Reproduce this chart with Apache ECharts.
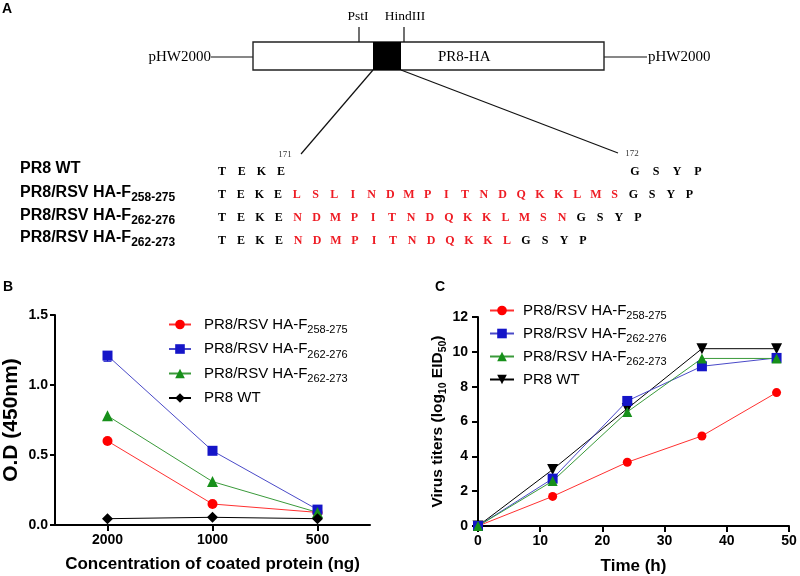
<!DOCTYPE html>
<html><head><meta charset="utf-8">
<script src="https://cdn.jsdelivr.net/npm/echarts@6/dist/echarts.min.js"></script>
<style>html,body{margin:0;padding:0;background:#fff}#c{width:800px;height:576px}</style>
</head><body><div id="c"></div>
<script>
const SANS = 'Liberation Sans';
const SERIF = 'Liberation Serif';

// ---------- Panel B data ----------
const bCategories = ['2000', '1000', '500'];
const bF258_275 = [0.60, 0.15, 0.09];
const bF262_276 = [1.21, 0.53, 0.11];
const bF262_273 = [0.78, 0.31, 0.09];
const bWT = [0.045, 0.055, 0.045];
const bF262_276Low = [1.17, null, null];

// ---------- Panel C data ----------
const cTimes = [0, 12, 24, 36, 48];
const cF258_275 = [0, 1.70, 3.66, 5.17, 7.66];
const cF262_276 = [0, 2.72, 7.18, 9.17, 9.65];
const cF262_273 = [0, 2.58, 6.55, 9.62, 9.62];
const cWT = [0, 3.24, 6.74, 10.18, 10.18];

// ---------- Names ----------
const seriesMain = ['PR8/RSV HA-F', 'PR8/RSV HA-F', 'PR8/RSV HA-F', 'PR8 WT'];
const seriesSub = ['258-275', '262-276', '262-273', ''];

// ---------- Panel A data ----------
const seqRowMain = ['PR8 WT', 'PR8/RSV HA-F', 'PR8/RSV HA-F', 'PR8/RSV HA-F'];
const seqRowSub = ['', '258-275', '262-276', '262-273'];
const seqLeft = ['TEKE', 'TEKE', 'TEKE', 'TEKE'];
const seqInsert = ['', 'LSLINDMPITNDQKKLMS', 'NDMPITNDQKKLMSN', 'NDMPITNDQKKL'];
const seqRight = ['GSYP', 'GSYP', 'GSYP', 'GSYP'];
const siteLabels = ['PstI', 'HindIII'];
const residueNums = ['171', '172'];

const RED = '#ee1c24';
const colors = ['#ff0000', '#1515c8', '#17901a', '#000000'];
const lineColors = ['#ff3030', '#4a4ac8', '#3a9a3a', '#000000'];

const rich = {
  m: { fontFamily: SANS, fontSize: 15, lineHeight: 22, color: '#000' },
  s: { fontFamily: SANS, fontSize: 11, lineHeight: 10, verticalAlign: 'bottom', color: '#000' }
};
const richBold = {
  m: { fontFamily: SANS, fontSize: 16, fontWeight: 'bold', lineHeight: 22, color: '#000' },
  s: { fontFamily: SANS, fontSize: 12, fontWeight: 'bold', lineHeight: 10, verticalAlign: 'bottom', color: '#000' }
};
function legendFmt(name) {
  const i = +name.slice(1);
  return seriesSub[i] ? '{m|' + seriesMain[i] + '}{s|' + seriesSub[i] + '}' : '{m|' + seriesMain[i] + '}';
}

// ---------- graphic for panel A ----------
const g = [];
function line(x1, y1, x2, y2, w) {
  g.push({ type: 'line', shape: { x1, y1, x2, y2 }, style: { stroke: '#111', lineWidth: w || 1.2 }, silent: true });
}
function txt(x, y, text, font, align, color, extra) {
  g.push(Object.assign({ type: 'text', x, y, silent: true,
    style: { text, font, fill: color || '#000', textAlign: align || 'left', textVerticalAlign: 'middle' } }, extra || {}));
}
txt(7, 9, 'A', 'bold 14px ' + SANS, 'center');
txt(8, 287, 'B', 'bold 14px ' + SANS, 'center');
txt(440, 287, 'C', 'bold 14px ' + SANS, 'center');

line(211, 57, 253, 57);
line(604, 57, 647, 57);
g.push({ type: 'rect', shape: { x: 253, y: 42, width: 351, height: 28 }, style: { fill: '#fff', stroke: '#222', lineWidth: 1.4 }, silent: true });
g.push({ type: 'rect', shape: { x: 373, y: 42, width: 28, height: 28 }, style: { fill: '#000' }, silent: true });
line(359, 27, 359, 42);
line(404, 27, 404, 42);
line(373, 70, 301, 154);
line(401, 70, 618, 153);
txt(358, 16, siteLabels[0], '13.5px ' + SERIF, 'center');
txt(405, 16, siteLabels[1], '13.5px ' + SERIF, 'center');
txt(211, 57, 'pHW2000', '15px ' + SERIF, 'right');
txt(648, 57, 'pHW2000', '15px ' + SERIF, 'left');
txt(438, 57, 'PR8-HA', '15px ' + SERIF, 'left');
txt(285, 155, residueNums[0], '9px ' + SERIF, 'center', '#333');
txt(632, 154, residueNums[1], '9px ' + SERIF, 'center', '#333');

const labelY = [169, 193, 216, 238];
const seqY = [172, 195, 218, 241];
const spacing = [19.7, 18.7, 18.9, 19.0];
for (let r = 0; r < 4; r++) {
  const lab = seqRowSub[r] ? '{m|' + seqRowMain[r] + '}{s|' + seqRowSub[r] + '}' : '{m|' + seqRowMain[r] + '}';
  g.push({ type: 'text', x: 20, y: labelY[r], silent: true,
    style: { text: lab, rich: richBold, textAlign: 'left', textVerticalAlign: 'middle', font: 'bold 16px ' + SANS } });
  const letters = [];
  seqLeft[r].split('').forEach(ch => letters.push([ch, '#000']));
  seqInsert[r].split('').forEach(ch => letters.push([ch, RED]));
  const nLeft = letters.length;
  seqRight[r].split('').forEach(ch => letters.push([ch, '#000']));
  letters.forEach((L, i) => {
    let x;
    if (!seqInsert[r] && i >= nLeft) x = 635 + (i - nLeft) * 21;
    else x = 222 + i * spacing[r];
    txt(x, seqY[r], L[0], 'bold 12px ' + SERIF, 'center', L[1]);
  });
}

// ---------- axes style helpers ----------
const axLine = { show: true, lineStyle: { color: '#000', width: 2 } };
const axTick = { show: true, length: 5, lineStyle: { color: '#000', width: 2 } };
const axLabel = { color: '#000', fontFamily: SANS, fontWeight: 'bold', fontSize: 14 };

function mkLine(name, data, i, symbol, size, xi, extra) {
  return Object.assign({
    type: 'line', name, data, xAxisIndex: xi, yAxisIndex: xi,
    symbol, symbolSize: size, showSymbol: true,
    itemStyle: { color: colors[i] }, lineStyle: { color: lineColors[i], width: 1 },
    emphasis: { disabled: true }, animation: false
  }, extra || {});
}
const pairs = arr => cTimes.map((t, k) => [t, arr[k]]);

const option = {
  backgroundColor: '#fff',
  animation: false,
  graphic: g,
  grid: [
    { left: 52, top: 315, width: 318, height: 210 },
    { left: 478, top: 317, width: 311, height: 209 }
  ],
  xAxis: [
    { type: 'category', gridIndex: 0, data: bCategories, boundaryGap: true,
      axisLine: axLine, axisTick: Object.assign({ alignWithLabel: true }, axTick, { length: 6 }),
      axisLabel: Object.assign({ margin: 8 }, axLabel),
      name: 'Concentration of coated protein (ng)', nameLocation: 'middle', nameGap: 31,
      nameTextStyle: { fontFamily: SANS, fontWeight: 'bold', fontSize: 17, color: '#000' } },
    { type: 'value', gridIndex: 1, min: 0, max: 50, interval: 10,
      axisLine: axLine, axisTick: Object.assign({}, axTick, { length: 6 }), splitLine: { show: false },
      axisLabel: Object.assign({ margin: 8 }, axLabel),
      name: 'Time (h)', nameLocation: 'middle', nameGap: 32,
      nameTextStyle: { fontFamily: SANS, fontWeight: 'bold', fontSize: 17, color: '#000' } }
  ],
  yAxis: [
    { type: 'value', gridIndex: 0, min: 0, max: 1.5, interval: 0.5,
      axisLine: axLine, axisTick: axTick, splitLine: { show: false },
      axisLabel: Object.assign({ margin: 7, formatter: v => v.toFixed(1) }, axLabel),
      name: 'O.D (450nm)', nameLocation: 'middle', nameGap: 33, nameRotate: 90,
      nameTextStyle: { fontFamily: SANS, fontWeight: 'bold', fontSize: 21, color: '#000' } },
    { type: 'value', gridIndex: 1, min: 0, max: 12, interval: 2,
      axisLine: axLine, axisTick: Object.assign({}, axTick, { length: 6 }), splitLine: { show: false },
      axisLabel: Object.assign({ margin: 10 }, axLabel),
      name: '{m|Virus titers (log}{s|10}{m| EID}{s|50}{m|)}', nameLocation: 'middle', nameGap: 29, nameRotate: 90,
      nameTextStyle: { fontFamily: SANS, fontWeight: 'bold', fontSize: 15.5, color: '#000',
        rich: {
          m: { fontFamily: SANS, fontWeight: 'bold', fontSize: 15.5, lineHeight: 22, color: '#000' },
          s: { fontFamily: SANS, fontWeight: 'bold', fontSize: 10.5, lineHeight: 10, verticalAlign: 'bottom', color: '#000' }
        } } }
  ],
  legend: [
    { orient: 'vertical', left: 168, top: 317, padding: 0, itemWidth: 22, itemHeight: 12, itemGap: 6,
      selectedMode: false, data: ['b0', 'b1', 'b2', 'b3'], formatter: legendFmt,
      textStyle: { fontFamily: SANS, fontSize: 15, color: '#000', padding: [0, 0, 0, 8], rich } },
    { orient: 'vertical', left: 489, top: 303, padding: 0, itemWidth: 24, itemHeight: 12, itemGap: 4.5,
      selectedMode: false, data: ['c0', 'c1', 'c2', 'c3'], formatter: legendFmt,
      textStyle: { fontFamily: SANS, fontSize: 15, color: '#000', padding: [0, 0, 0, 4], rich } }
  ],
  series: [
    { type: 'custom', xAxisIndex: 0, yAxisIndex: 0, silent: true, z: 1,
      data: bCategories.map((c, k) => [k, bF262_276Low[k], bF262_276[k]]).filter(d => d[1] != null),
      renderItem: function (params, api) {
        const lo = api.coord([api.value(0), api.value(1)]);
        const hi = api.coord([api.value(0), api.value(2)]);
        return { type: 'group', children: [
          { type: 'line', shape: { x1: lo[0], y1: lo[1], x2: hi[0], y2: hi[1] }, style: { stroke: colors[1], lineWidth: 1.2 } },
          { type: 'line', shape: { x1: lo[0] - 4, y1: lo[1], x2: lo[0] + 4, y2: lo[1] }, style: { stroke: colors[1], lineWidth: 1.2 } }
        ] };
      } },
    mkLine('b0', bF258_275, 0, 'circle', 10, 0),
    mkLine('b1', bF262_276, 1, 'rect', 10, 0),
    mkLine('b2', bF262_273, 2, 'triangle', 11, 0),
    mkLine('b3', bWT, 3, 'diamond', 11, 0),
    mkLine('c0', pairs(cF258_275), 0, 'circle', 9, 1),
    mkLine('c3', pairs(cWT), 3, 'triangle', 11, 1, { symbolRotate: 180 }),
    mkLine('c1', pairs(cF262_276), 1, 'rect', 10, 1),
    mkLine('c2', pairs(cF262_273), 2, 'triangle', 10, 1)
  ]
};
const chart = echarts.init(document.getElementById('c'), null, { renderer: 'canvas' });
chart.setOption(option);
</script></body></html>
